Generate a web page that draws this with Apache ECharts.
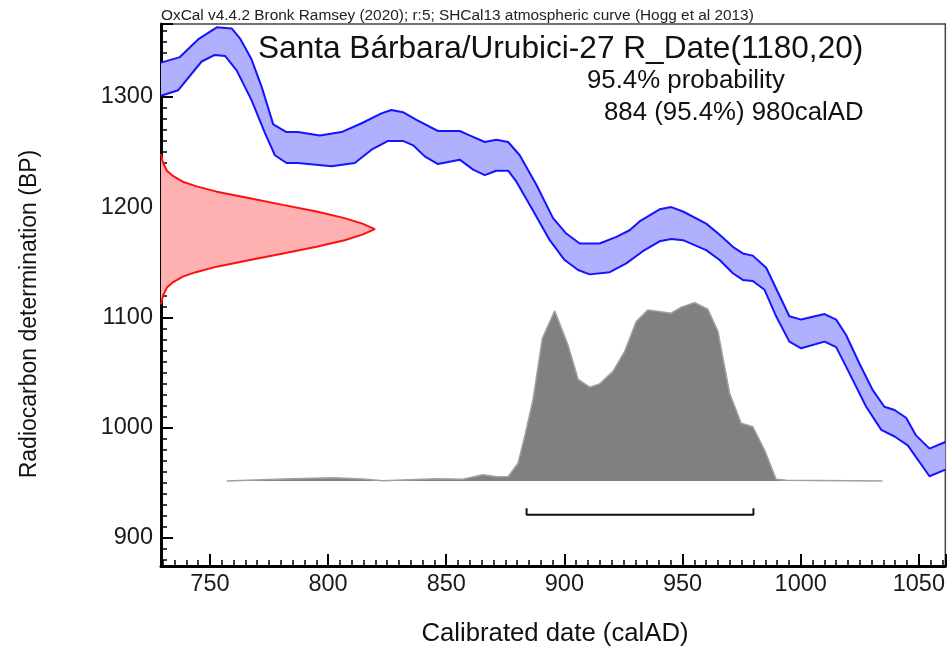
<!DOCTYPE html>
<html>
<head>
<meta charset="utf-8">
<script src="https://cdn.jsdelivr.net/npm/echarts@6/dist/echarts.min.js"></script>
<style>
html, body { margin: 0; padding: 0; background: #fff; }
#chart { width: 948px; height: 648px; }
</style>
</head>
<body>
<div id="chart"></div>
<script>
// SHCal13 curve, upper edge [calAD, BP]
var curveUpper = [
  [729.3, 1331], [737.3, 1336], [745.0, 1352], [752.9, 1363], [759.2, 1362], [762.7, 1353],
  [767.6, 1334], [771.9, 1309], [776.8, 1275], [782.4, 1268], [787.2, 1268], [796.5, 1265],
  [805.7, 1268], [814.2, 1276], [822.6, 1285], [826.8, 1288], [831.7, 1286], [837.4, 1279],
  [846.5, 1269], [855.7, 1269], [859.9, 1265], [866.3, 1259], [871.2, 1261], [876.2, 1259],
  [881.1, 1247], [888.2, 1220], [895.2, 1190], [900.8, 1176], [906.5, 1167], [914.9, 1167],
  [922.0, 1173], [927.6, 1179], [931.8, 1187], [940.3, 1198], [945.2, 1200], [950.2, 1196],
  [960.0, 1185], [965.7, 1175], [971.3, 1164], [975.5, 1158], [979.7, 1156], [985.4, 1145],
  [990.3, 1123], [995.2, 1101], [1000.2, 1098], [1010.1, 1103], [1015.0, 1098], [1019.2, 1084],
  [1024.9, 1058], [1030.5, 1034], [1035.4, 1019], [1039.7, 1016], [1044.6, 1009], [1048.8, 993],
  [1054.5, 981], [1061.2, 987]
];
// SHCal13 curve, lower edge [calAD, BP]
var curveLower = [
  [729.3, 1301], [736.6, 1306], [746.5, 1332], [752.1, 1338], [756.4, 1337], [761.3, 1324],
  [767.6, 1297], [773.3, 1267], [777.5, 1247], [782.4, 1240], [787.2, 1240], [801.5, 1237],
  [811.3, 1240], [818.4, 1252], [825.4, 1260], [831.7, 1260], [836.0, 1256], [840.9, 1246],
  [846.5, 1239], [855.7, 1243], [861.4, 1234], [866.3, 1229], [871.2, 1233], [876.2, 1233],
  [879.7, 1223], [886.7, 1197], [893.8, 1170], [900.1, 1152], [905.8, 1143], [910.7, 1139],
  [919.2, 1141], [926.2, 1149], [933.2, 1160], [940.3, 1169], [945.2, 1171], [950.2, 1170],
  [960.0, 1161], [965.7, 1152], [971.3, 1140], [975.5, 1134], [979.7, 1133], [984.7, 1125],
  [989.6, 1101], [995.2, 1078], [1000.2, 1072], [1010.1, 1078], [1015.0, 1073], [1020.7, 1049],
  [1027.7, 1019], [1034.1, 998], [1039.7, 992], [1045.3, 984], [1054.5, 956], [1061.2, 962]
];
// R_Date(1180,20) drawn against the BP axis [calAD, BP]
var dateCurve = [
  [729.3, 1248], [730.2, 1240], [731.8, 1233], [734.5, 1228], [738.5, 1223], [744.0, 1219],
  [752.9, 1214], [766.9, 1208], [780.9, 1202], [795.1, 1196], [807.0, 1190], [814.5, 1185],
  [819.8, 1180], [814.5, 1175], [807.0, 1170], [795.1, 1164], [781.0, 1158], [766.9, 1152],
  [752.9, 1146], [744.0, 1141], [738.5, 1137], [734.5, 1132], [731.8, 1127], [730.2, 1120],
  [729.3, 1112]
];
// calibrated probability [calAD, BP]
var probCurve = [
  [757.1, 951.7], [781.0, 953.5], [802.2, 954.7], [814.7, 953.5], [823.2, 952.0], [845.9, 953.8],
  [857.0, 953.2], [865.5, 957.4], [871.2, 955.6], [876.2, 955.6], [880.4, 967.8], [883.2, 991.9],
  [886.7, 1025.2], [890.7, 1081.1], [895.9, 1105.9], [901.5, 1075.1], [905.8, 1043.9], [910.7, 1036.7],
  [914.9, 1039.7], [920.5, 1050.8], [925.5, 1069.0], [930.4, 1096.2], [935.4, 1106.8], [945.2, 1103.8],
  [949.5, 1109.3], [955.1, 1113.4], [960.7, 1107.4], [965.0, 1087.1], [969.9, 1031.3], [974.8, 1004.0],
  [979.7, 1000.9], [984.7, 979.8], [989.6, 953.3], [993.9, 952.3], [1034.6, 951.7]
];
var probBase = 951.7;
// 95.4% range
var rangeBracket = [[884, 927], [884, 921], [980, 921], [980, 927]];

var xMin = 729.3, xMax = 1061.2;
var yMin = 874.6, yMax = 1366;
var font = 'Liberation Sans, Arial, sans-serif';

var chart = echarts.init(document.getElementById('chart'), null, { renderer: 'canvas' });

function polygonSeries(name, fill, z, build) {
  return {
    name: name,
    type: 'custom',
    z: z,
    data: [0],
    silent: true,
    renderItem: function (params, api) {
      var pts = build().map(function (p) { return api.coord(p); });
      return { type: 'polygon', shape: { points: pts }, style: { fill: fill, stroke: null } };
    }
  };
}

function plain(v) { return String(Math.round(v)); }

chart.setOption({
  animation: false,
  backgroundColor: '#fff',
  title: [
    { text: 'OxCal v4.4.2 Bronk Ramsey (2020); r:5; SHCal13 atmospheric curve (Hogg et al 2013)',
      left: 161, top: 8, padding: 0, textStyle: { fontSize: 15.4, fontWeight: 'normal', color: '#222', fontFamily: font } },
    { text: 'Santa Bárbara/Urubici-27 R_Date(1180,20)',
      left: 258, top: 33, padding: 0, textStyle: { fontSize: 31.6, fontWeight: 'normal', color: '#111', fontFamily: font } },
    { text: '95.4% probability',
      left: 587, top: 68, padding: 0, textStyle: { fontSize: 25.8, fontWeight: 'normal', color: '#111', fontFamily: font } },
    { text: '884 (95.4%) 980calAD',
      left: 604, top: 100, padding: 0, textStyle: { fontSize: 25.8, fontWeight: 'normal', color: '#111', fontFamily: font } }
  ],
  graphic: [
    { type: 'text', x: 30, y: 314, rotation: Math.PI / 2,
      style: { text: 'Radiocarbon determination (BP)', font: '23px ' + font, fill: '#111', align: 'center', verticalAlign: 'middle' } },
    { type: 'text', x: 555, y: 634,
      style: { text: 'Calibrated date (calAD)', font: '25.7px ' + font, fill: '#111', align: 'center', verticalAlign: 'middle' } }
  ],
  grid: { left: 161, right: 2, top: 24, bottom: 82, show: true, borderColor: '#444', borderWidth: 1.5 },
  xAxis: {
    type: 'value', min: xMin, max: xMax, splitNumber: 7,
    splitLine: { show: false },
    axisLine: { onZero: false, lineStyle: { color: '#000', width: 3 } },
    axisTick: { inside: true, length: 12, lineStyle: { color: '#000', width: 2 } },
    minorTick: { show: true, splitNumber: 10, length: 6, lineStyle: { color: '#000', width: 1.5 } },
    axisLabel: { fontSize: 23.5, color: '#1a1a1a', margin: 7, fontFamily: font, formatter: plain,
      showMinLabel: false, showMaxLabel: false }
  },
  yAxis: {
    type: 'value', min: yMin, max: yMax, splitNumber: 5,
    splitLine: { show: false },
    axisLine: { onZero: false, lineStyle: { color: '#000', width: 3 } },
    axisTick: { inside: true, length: 12, lineStyle: { color: '#000', width: 2 } },
    minorTick: { show: true, splitNumber: 10, length: 6, lineStyle: { color: '#000', width: 1.5 } },
    axisLabel: { fontSize: 23.5, color: '#1a1a1a', margin: 8, fontFamily: font, formatter: plain,
      showMinLabel: false, showMaxLabel: false }
  },
  series: [
    polygonSeries('band', '#b0b0ff', 1, function () {
      return curveUpper.concat(curveLower.slice().reverse());
    }),
    { name: 'upper', type: 'line', z: 2, data: curveUpper, showSymbol: false, silent: true,
      lineStyle: { color: '#1414ff', width: 2 } },
    { name: 'lower', type: 'line', z: 2, data: curveLower, showSymbol: false, silent: true,
      lineStyle: { color: '#1414ff', width: 2 } },
    polygonSeries('date', '#ffb0b0', 1, function () { return dateCurve; }),
    { name: 'dateLine', type: 'line', z: 2, data: dateCurve, showSymbol: false, silent: true,
      lineStyle: { color: '#ff1010', width: 2 } },
    polygonSeries('prob', '#808080', 1, function () {
      return probCurve.concat([[probCurve[probCurve.length - 1][0], probBase], [probCurve[0][0], probBase]]);
    }),
    { name: 'probLine', type: 'line', z: 2, data: probCurve, showSymbol: false, silent: true,
      lineStyle: { color: '#a0a0a0', width: 1.5 } },
    { name: 'range', type: 'line', z: 3, data: rangeBracket, showSymbol: false, silent: true,
      lineStyle: { color: '#111', width: 2 } }
  ]
});

window.addEventListener('resize', function () { chart.resize(); });
</script>
</body>
</html>
